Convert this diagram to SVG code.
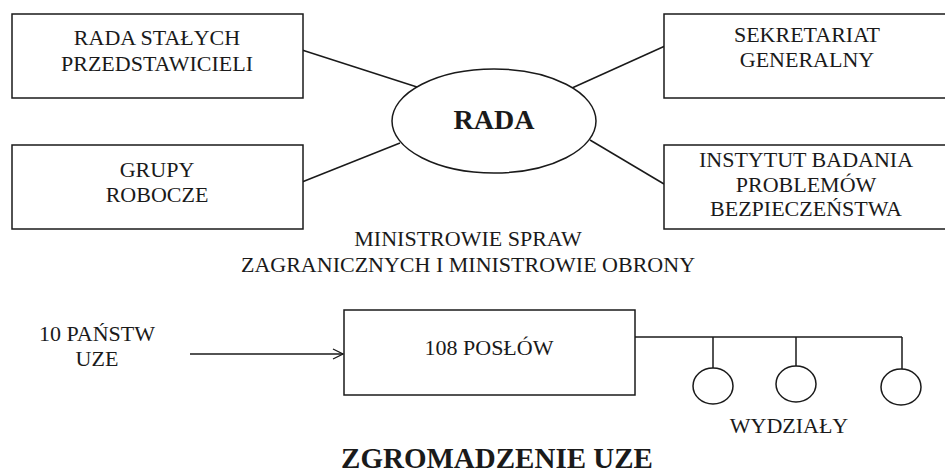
<svg xmlns="http://www.w3.org/2000/svg" width="945" height="474" viewBox="0 0 945 474" font-family="Liberation Serif">
<defs>
<marker id="ah" markerWidth="12" markerHeight="12" refX="11" refY="6" orient="auto" markerUnits="userSpaceOnUse">
<path d="M1,1 L11,6 L1,11" fill="none" stroke="#1a1a1a" stroke-width="1.3"/>
</marker>
</defs>
<rect width="945" height="474" fill="#fff"/>
<g id="connectors" fill="none" stroke="#1a1a1a" stroke-width="1.5">
<line x1="302" y1="50" x2="417" y2="87"/>
<line x1="302" y1="182" x2="400" y2="143"/>
<line x1="572" y1="88" x2="665" y2="46"/>
<line x1="590" y1="140" x2="664" y2="184"/>
<line x1="190" y1="354" x2="343" y2="354" marker-end="url(#ah)"/>
<line x1="635" y1="337" x2="902" y2="337"/>
<line x1="713" y1="337" x2="713" y2="368"/>
<line x1="796" y1="337" x2="796" y2="366"/>
<line x1="902" y1="337" x2="902" y2="369"/>
</g>
<g id="rada-stalych">
<rect x="12" y="14" width="291" height="84" fill="#fff" stroke="#1a1a1a" stroke-width="1.5"/>
<text x="157" y="45" font-family="Liberation Serif" font-size="22" text-anchor="middle" fill="#1a1a1a">RADA STAŁYCH</text>
<text x="157" y="71" font-family="Liberation Serif" font-size="22" text-anchor="middle" fill="#1a1a1a">PRZEDSTAWICIELI</text>
</g>
<g id="grupy">
<rect x="12" y="145" width="291" height="84" fill="#fff" stroke="#1a1a1a" stroke-width="1.5"/>
<text x="157" y="177" font-family="Liberation Serif" font-size="22" text-anchor="middle" fill="#1a1a1a">GRUPY</text>
<text x="157" y="202" font-family="Liberation Serif" font-size="22" text-anchor="middle" fill="#1a1a1a">ROBOCZE</text>
</g>
<g id="rada">
<ellipse cx="494" cy="121" rx="102" ry="52" fill="#fff" stroke="#1a1a1a" stroke-width="1.5"/>
<text x="494" y="129" font-family="Liberation Serif" font-size="28" font-weight="bold" text-anchor="middle" fill="#1a1a1a">RADA</text>
</g>
<g id="sekretariat">
<rect x="664" y="14" width="290" height="84" fill="#fff" stroke="#1a1a1a" stroke-width="1.5"/>
<text x="807" y="42" font-family="Liberation Serif" font-size="22" text-anchor="middle" fill="#1a1a1a">SEKRETARIAT</text>
<text x="807" y="67" font-family="Liberation Serif" font-size="22" text-anchor="middle" fill="#1a1a1a">GENERALNY</text>
</g>
<g id="instytut">
<rect x="664" y="145" width="290" height="84" fill="#fff" stroke="#1a1a1a" stroke-width="1.5"/>
<text x="806" y="167" font-family="Liberation Serif" font-size="22" text-anchor="middle" fill="#1a1a1a">INSTYTUT BADANIA</text>
<text x="806" y="192" font-family="Liberation Serif" font-size="22" text-anchor="middle" fill="#1a1a1a">PROBLEMÓW</text>
<text x="806" y="216" font-family="Liberation Serif" font-size="22" text-anchor="middle" fill="#1a1a1a">BEZPIECZEŃSTWA</text>
</g>
<g id="ministrowie">
<text x="468" y="246" font-family="Liberation Serif" font-size="22" text-anchor="middle" fill="#1a1a1a">MINISTROWIE SPRAW</text>
<text x="468" y="272" font-family="Liberation Serif" font-size="22" text-anchor="middle" fill="#1a1a1a">ZAGRANICZNYCH I MINISTROWIE OBRONY</text>
</g>
<g id="panstwa">
<text x="97" y="341" font-family="Liberation Serif" font-size="22" text-anchor="middle" fill="#1a1a1a">10 PAŃSTW</text>
<text x="97" y="366" font-family="Liberation Serif" font-size="22" text-anchor="middle" fill="#1a1a1a">UZE</text>
</g>
<g id="poslowie">
<rect x="344" y="310" width="291" height="85" fill="#fff" stroke="#1a1a1a" stroke-width="1.5"/>
<text x="489" y="355" font-family="Liberation Serif" font-size="22" text-anchor="middle" fill="#1a1a1a">108 POSŁÓW</text>
</g>
<g id="wydzial1"><ellipse cx="713" cy="386" rx="20" ry="18" fill="#fff" stroke="#1a1a1a" stroke-width="1.5"/></g>
<g id="wydzial2"><ellipse cx="796" cy="384" rx="20" ry="18" fill="#fff" stroke="#1a1a1a" stroke-width="1.5"/></g>
<g id="wydzial3"><ellipse cx="901" cy="387" rx="20" ry="18" fill="#fff" stroke="#1a1a1a" stroke-width="1.5"/></g>
<g id="wydzialy-label"><text x="789" y="433" font-family="Liberation Serif" font-size="22" text-anchor="middle" fill="#1a1a1a">WYDZIAŁY</text></g>
<g id="zgromadzenie"><text x="497" y="468" font-family="Liberation Serif" font-size="29" font-weight="bold" text-anchor="middle" fill="#1a1a1a">ZGROMADZENIE UZE</text></g>
</svg>
